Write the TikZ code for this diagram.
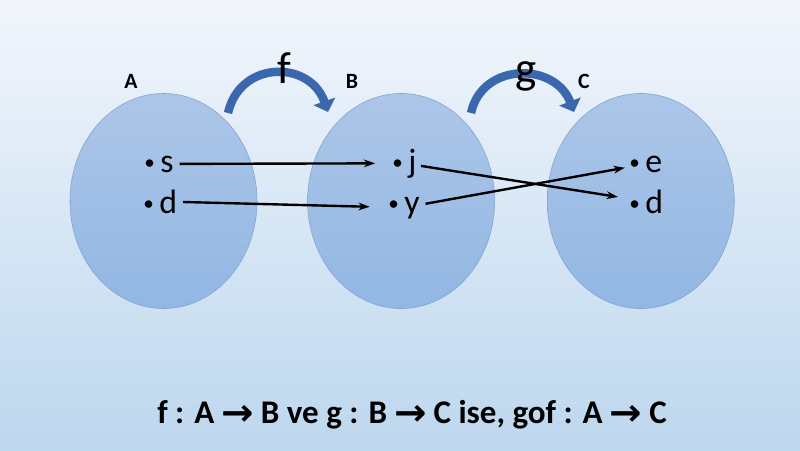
\documentclass[tikz,border=0pt]{standalone}
\usepackage{fontspec}
\setmainfont{Carlito}
\newfontfamily\setafonte{DejaVu Sans}
\usetikzlibrary{positioning, shapes.geometric, arrows.meta}
\definecolor{fundotopo}{RGB}{242,246,252}
\definecolor{fundobase}{RGB}{189,215,238}
\definecolor{conjtopo}{RGB}{172,198,232}
\definecolor{conjbase}{RGB}{146,183,227}
\definecolor{conjborda}{RGB}{128,162,212}
\definecolor{setaazul}{RGB}{58,103,174}

% Marcador dos elementos e seta do texto
\newcommand{\ponto}{{\fontsize{15}{18}\selectfont\raisebox{2pt}{\textbullet}}\hspace{4pt}}
\newcommand{\seta}{\hspace{5pt}{\setafonte\bfseries\fontsize{23}{24}\selectfont\raisebox{-1.5pt}{\scalebox{1.2}[1.15]{→}}}\hspace{5pt}}

\begin{document}
\begin{tikzpicture}[x=0.025cm, y=-0.025cm]
    % Definindo os estilos
    \tikzstyle{conjunto} = [ellipse, draw=conjborda, line width=0.4pt, top color=conjtopo, bottom color=conjbase, minimum width=4.675cm, minimum height=5.375cm, inner sep=0pt]
    \tikzstyle{elemento} = [anchor=base west, inner sep=0pt, font=\fontsize{24}{28}\selectfont]
    \tikzstyle{rotulo} = [anchor=base, font=\bfseries\fontsize{15.5}{18}\selectfont]
    \tikzstyle{funcao} = [anchor=base, font=\fontsize{32}{36}\selectfont]
    \tikzstyle{ligacao} = [draw, line width=1.7pt, -{Stealth[length=8pt, width=5.5pt]}]
    \tikzstyle{curva} = [draw=setaazul, line width=6pt, -{Triangle[length=8pt, width=16pt]}]

    % Fundo
    \shade[top color=fundotopo, bottom color=fundobase] (0,0) rectangle (800,450);

    % Conjuntos
    \node [conjunto] (A) at (163.5,201) {};
    \node [conjunto, right=1.25cm of A] (B) {};
    \node [conjunto, right=1.3cm of B] (C) {};

    % Nomes dos conjuntos
    \node [rotulo] (nomeA) at (131,88) {A};
    \node [rotulo] (nomeB) at (352,88) {B};
    \node [rotulo] (nomeC) at (584,88) {C};

    % Elementos
    \node [elemento] (s) at (144,172) {\ponto s};
    \node [elemento] (d) at (143,213) {\ponto d};
    \node [elemento] (j) at (392,172) {\ponto j};
    \node [elemento] (y) at (388,213) {\ponto y};
    \node [elemento] (e) at (629,172) {\ponto e};
    \node [elemento] (dc) at (629,213) {\ponto d};

    % Setas curvas das funções
    \draw [curva] (228,113) .. controls (240,60) and (310,60) .. (328,112);
    \draw [curva] (471,113) .. controls (482,62) and (555,62) .. (574,112);
    \node [funcao] (f) at (284,83) {f};
    \node [funcao] (g) at (526,83) {g};

    % Ligações entre elementos
    \path [ligacao, shorten <=4pt, shorten >=12pt] (s) -- (j);
    \path [ligacao, shorten <=4pt, shorten >=13pt] (d) -- (y);
    \path [ligacao, shorten <=3pt, shorten >=8pt] (j) -- (dc);
    \path [ligacao, shorten <=4pt, shorten >=3pt] (y) -- (e);

    % Composição
    \node [anchor=base west, inner sep=0pt, font=\bfseries\fontsize{23.5}{26}\selectfont] (composicao) at (157,423) {f : A\seta B ve g : B\seta C ise, gof : A\seta C};
\end{tikzpicture}
\end{document}
